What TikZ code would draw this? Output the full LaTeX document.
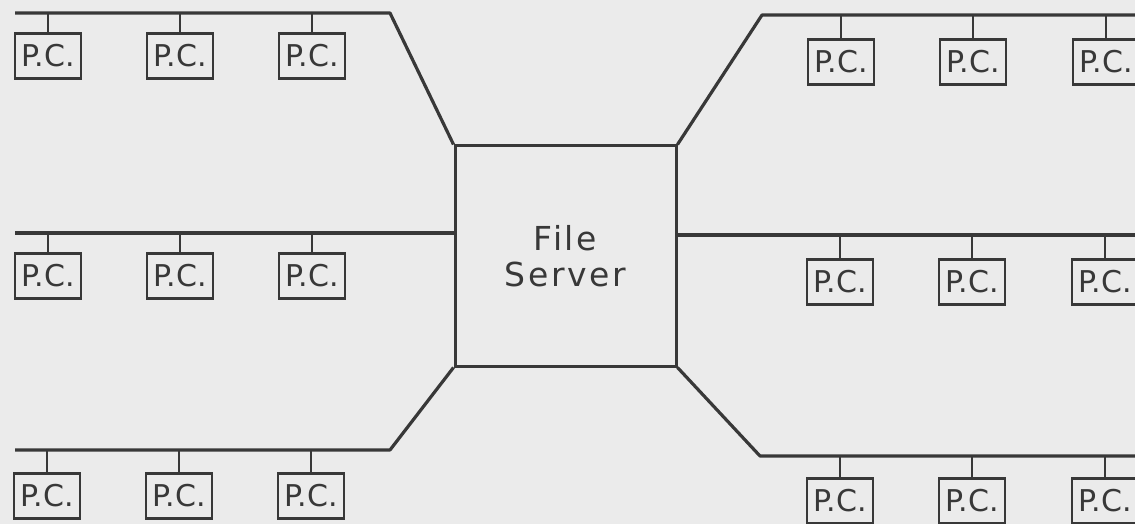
\documentclass[tikz,border=0pt]{standalone}
\usepackage{fontspec}
\setmainfont{DejaVu Sans}
\newfontfamily\serverfont[LetterSpace=8]{DejaVu Sans}
\usepackage{tikz}

\definecolor{paper}{HTML}{EBEBEB}
\definecolor{ink}{HTML}{383838}

\tikzset{
  pc/.style={draw=ink, line width=2.8pt, minimum width=66pt, minimum height=45pt,
    inner sep=0pt, anchor=north, text=ink, font=\fontsize{30}{30}\selectfont},
  server/.style={draw=ink, line width=3pt, minimum width=221pt, minimum height=220pt,
    align=center, text=ink, font=\serverfont\fontsize{33}{36}\selectfont},
  bus/.style={draw=ink, line width=3.2pt, line join=round},
  stub/.style={draw=ink, line width=2.5pt}
}

\begin{document}
\begin{tikzpicture}[x=1pt, y=-1pt]

    \clip (0,0) rectangle (1135,524);
    \fill[paper] (0,0) rectangle (1135,524);

    \node[server] (server) at (565.5,256) {File\\Server};

    \begin{scope}[yshift=-13pt]
      \coordinate (busA) at (15,0);
      \coordinate (bendA) at (390,0);
      \node[pc] (pcA1) at (48,19) {P.C.};
      \node[pc] (pcA2) at (180,19) {P.C.};
      \node[pc] (pcA3) at (312,19) {P.C.};
    \end{scope}

    \begin{scope}[yshift=-233pt]
      \coordinate (busB) at (15,0);
      \node[pc] (pcB1) at (48,19) {P.C.};
      \node[pc] (pcB2) at (180,19) {P.C.};
      \node[pc] (pcB3) at (312,19) {P.C.};
    \end{scope}

    \begin{scope}[yshift=-450pt]
      \coordinate (busC) at (15,0);
      \coordinate (bendC) at (390,0);
      \node[pc] (pcC1) at (47,22) {P.C.};
      \node[pc] (pcC2) at (179,22) {P.C.};
      \node[pc] (pcC3) at (311,22) {P.C.};
    \end{scope}

    \begin{scope}[yshift=-15pt]
      \coordinate (bendD) at (762,0);
      \coordinate (busD) at (1140,0);
      \node[pc] (pcD1) at (841,23) {P.C.};
      \node[pc] (pcD2) at (973,23) {P.C.};
      \node[pc] (pcD3) at (1106,23) {P.C.};
    \end{scope}

    \begin{scope}[yshift=-235pt]
      \coordinate (busE) at (1140,0);
      \node[pc] (pcE1) at (840,23) {P.C.};
      \node[pc] (pcE2) at (972,23) {P.C.};
      \node[pc] (pcE3) at (1105,23) {P.C.};
    \end{scope}

    \begin{scope}[yshift=-456pt]
      \coordinate (bendF) at (760,0);
      \coordinate (busF) at (1140,0);
      \node[pc] (pcF1) at (840,21) {P.C.};
      \node[pc] (pcF2) at (972,21) {P.C.};
      \node[pc] (pcF3) at (1105,21) {P.C.};
    \end{scope}

    \draw[bus] (busA) -- (bendA) -- (server.north west);
    \draw[bus] (busB) -- (busB -| server.west);
    \draw[bus] (busC) -- (bendC) -- (server.south west);
    \draw[bus] (server.north east) -- (bendD) -- (busD);
    \draw[bus] (busE -| server.east) -- (busE);
    \draw[bus] (server.south east) -- (bendF) -- (busF);

    \draw[stub] (pcA1.north) -- (pcA1.north |- busA) (pcA2.north) -- (pcA2.north |- busA)
      (pcA3.north) -- (pcA3.north |- busA);
    \draw[stub] (pcB1.north) -- (pcB1.north |- busB) (pcB2.north) -- (pcB2.north |- busB)
      (pcB3.north) -- (pcB3.north |- busB);
    \draw[stub] (pcC1.north) -- (pcC1.north |- busC) (pcC2.north) -- (pcC2.north |- busC)
      (pcC3.north) -- (pcC3.north |- busC);
    \draw[stub] (pcD1.north) -- (pcD1.north |- busD) (pcD2.north) -- (pcD2.north |- busD)
      (pcD3.north) -- (pcD3.north |- busD);
    \draw[stub] (pcE1.north) -- (pcE1.north |- busE) (pcE2.north) -- (pcE2.north |- busE)
      (pcE3.north) -- (pcE3.north |- busE);
    \draw[stub] (pcF1.north) -- (pcF1.north |- busF) (pcF2.north) -- (pcF2.north |- busF)
      (pcF3.north) -- (pcF3.north |- busF);

  \end{tikzpicture}
\end{document}
